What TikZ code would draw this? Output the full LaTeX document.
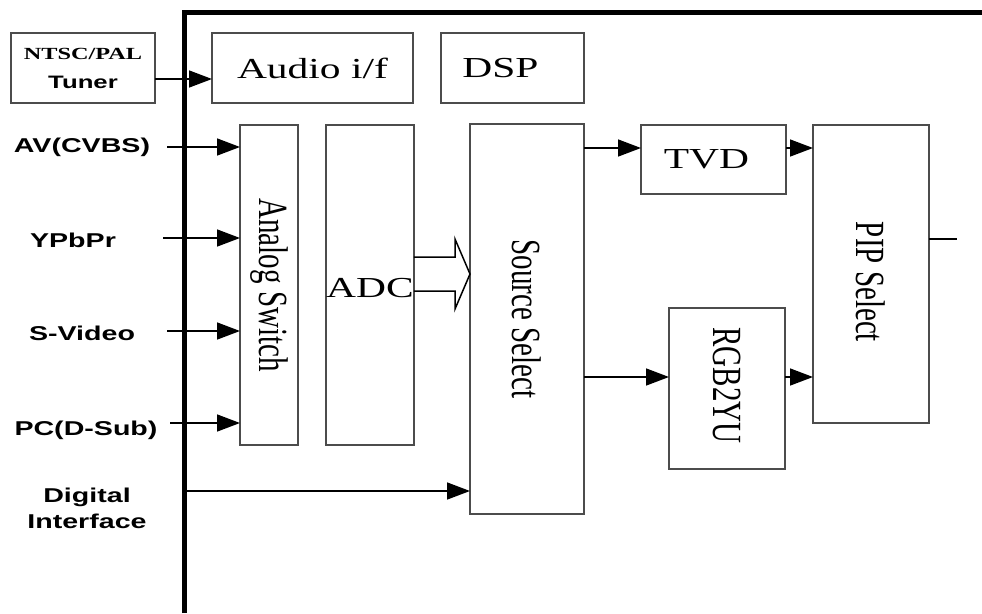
\documentclass[tikz,border=0pt]{standalone}
\usepackage{fontspec}
\setmainfont{Liberation Serif}
\setsansfont{Liberation Sans}
\usetikzlibrary{arrows.meta,calc}
\newcommand{\sxt}[1]{\scalebox{1.43}[1]{#1}}
\newcommand{\rtt}[1]{\scalebox{1.43}[1]{\rotatebox{-90}{#1}}}
\newcommand{\lowerby}[2]{\raisebox{-#1}[\height][\depth]{#2}}
\begin{document}
\begin{tikzpicture}[x=1pt,y=-1pt,
  box/.style={draw=black!70, line width=2pt, inner sep=0pt, outer sep=0pt,
    font=\rmfamily\fontsize{29}{32}\selectfont},
  lbl/.style={inner sep=0pt, align=center, font=\sffamily\bfseries\fontsize{20}{26}\selectfont},
  arr/.style={line width=1.5pt, -{Triangle[length=23pt,width=17pt]}},
  frameline/.style={line width=5pt}]
\useasboundingbox (0,0) rectangle (982,613);
% frame
\draw[frameline] (184,613) -- (184,12) -- (982,12);
% boxes
\node[box, minimum width=144pt, minimum height=70pt, align=center] (tuner) at (83,68)
  {\sxt{\rmfamily\bfseries\fontsize{17}{19}\selectfont NTSC/PAL}\\[-3pt]\sxt{\sffamily\bfseries\fontsize{18}{20}\selectfont Tuner}};
\node[box, minimum width=201pt, minimum height=70pt] (audio) at (312.5,68) {\sxt{Audio i/f}};
\node[box, minimum width=143pt, minimum height=70pt] (dsp) at (512.5,68) {\hspace*{-24pt}\sxt{DSP}};
\node[box, minimum width=58pt, minimum height=320pt] (asw) at (269,285) {\rtt{Analog Switch}};
\node[box, minimum width=86pt, minimum height=320pt] (adc) at (370,285) {\lowerby{3pt}{\sxt{ADC}}};
\node[box, minimum width=114pt, minimum height=390pt] (src) at (527,319) {\rtt{Source Select}};
\node[box, minimum width=145pt, minimum height=69pt] (tvd) at (713.5,159.5) {\hspace*{-14pt}\sxt{TVD}};
\node[box, minimum width=116pt, minimum height=161pt] (rgb) at (727,388.5) {\lowerby{-3pt}{\rtt{RGB2YU}}};
\node[box, minimum width=116pt, minimum height=298pt] (pip) at (871,274) {\lowerby{8pt}{\rtt{PIP Select}}};
% input labels
\node[lbl] (av) at (82,147) {\sxt{AV(CVBS)}};
\node[lbl] (ypb) at (73,240) {\sxt{YPbPr}};
\node[lbl] (sv) at (82,333) {\sxt{S-Video}};
\node[lbl] (pc) at (86,430) {\sxt{PC(D-Sub)}};
\node[lbl] (dig) at (87,508) {\sxt{Digital}\\\sxt{Interface}};
% arrow start points
\coordinate (avs) at (167,147);
\coordinate (ypbs) at (163,238);
\coordinate (svs) at (167,331);
\coordinate (pcs) at (170,423);
\coordinate (digs) at (184,491);
\coordinate (out) at (957,239);
% connectors
\draw[arr] ([yshift=-11pt]tuner.east) -- ([yshift=-11pt]audio.west);
\draw[arr] (avs) -- (avs -| asw.west);
\draw[arr] (ypbs) -- (ypbs -| asw.west);
\draw[arr] (svs) -- (svs -| asw.west);
\draw[arr] (pcs) -- (pcs -| asw.west);
\draw[arr] (digs) -- (digs -| src.west);
\draw[arr] (src.east |- 0,148) -- (tvd.west |- 0,148);
\draw[arr] (tvd.east |- 0,148) -- (pip.west |- 0,148);
\draw[arr] (src.east |- 0,377) -- (rgb.west |- 0,377);
\draw[arr] (rgb.east |- 0,377) -- (pip.west |- 0,377);
\draw[line width=1.5pt] (pip.east |- out) -- (out);
% hollow arrow ADC -> Source Select
\draw[line width=1.5pt, line join=miter] (adc.east |- 0,257) -- (455,257) -- (455,239)
  -- (src.west |- 0,274) -- (455,309) -- (455,291) -- (adc.east |- 0,291);
\end{tikzpicture}
\end{document}
